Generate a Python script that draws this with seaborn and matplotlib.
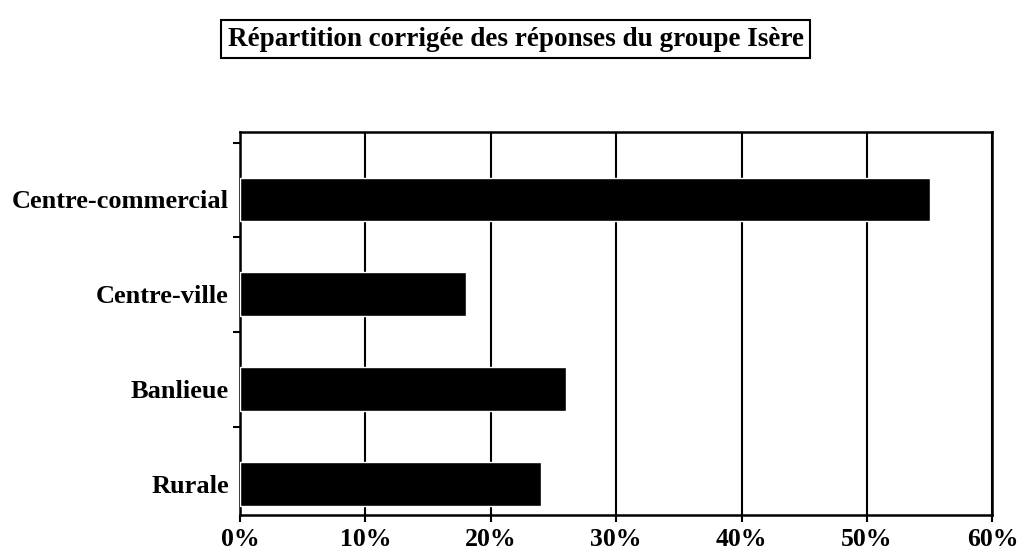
import pandas as pd
import seaborn as sns
import matplotlib.pyplot as plt
from matplotlib.ticker import PercentFormatter, FixedLocator

# Values (percent)
categories = ['Centre-commercial', 'Centre-ville', 'Banlieue', 'Rurale']
values = [55, 18, 26, 24]
x_ticks = [0, 10, 20, 30, 40, 50, 60]

df = pd.DataFrame({'zone': categories, 'pct': values})

sns.set_style('white')
plt.rcParams['font.family'] = ['Liberation Serif', 'DejaVu Serif']
plt.rcParams['font.weight'] = 'bold'
plt.rcParams['text.color'] = 'black'
plt.rcParams['xtick.color'] = 'black'
plt.rcParams['ytick.color'] = 'black'

fig = plt.figure(figsize=(10.21, 5.6), dpi=100)
ax = fig.add_axes([0.235, 0.08, 0.737, 0.684])

sns.barplot(data=df, y='zone', x='pct', orient='h', color='black',
            width=0.46, saturation=1, ax=ax, zorder=3)

ax.set_xlim(0, 60)
ax.set_ylim(3.33, -0.71)
ax.set_xticks(x_ticks)
ax.xaxis.set_major_formatter(PercentFormatter(decimals=0))
ax.set_xlabel('')
ax.set_ylabel('')

# vertical black gridlines like the original
ax.grid(axis='x', color='black', linewidth=1.5, zorder=0)
for s in ax.spines.values():
    s.set_color('black')
    s.set_linewidth(1.8)

ax.tick_params(axis='x', length=5, width=1.5, color='black', pad=4,
               labelsize=18.5, direction='out', bottom=True)
ax.tick_params(axis='y', which='major', length=0, labelsize=19, pad=8)
# small separators between categories on the left axis
ax.yaxis.set_minor_locator(FixedLocator([-0.6, 0.4, 1.4, 2.4]))
ax.tick_params(axis='y', which='minor', length=5, width=1.5, color='black',
               left=True, direction='out')

for lbl in ax.get_xticklabels() + ax.get_yticklabels():
    lbl.set_fontweight('bold')

fig.text(0.505, 0.93, 'Répartition corrigée des réponses du groupe Isère',
         ha='center', va='center', fontsize=19.5, fontweight='bold',
         bbox=dict(boxstyle='square,pad=0.25', facecolor='white',
                   edgecolor='black', linewidth=1.5))

fig.savefig('out.png', dpi=100, facecolor='white')
